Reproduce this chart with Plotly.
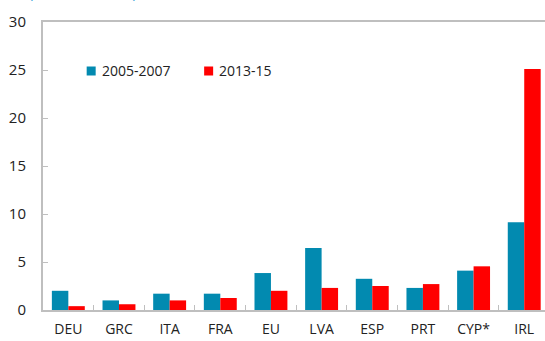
import plotly.graph_objects as go

# Categories and series values (percent of GDP)
countries = ["DEU", "GRC", "ITA", "FRA", "EU", "LVA", "ESP", "PRT", "CYP*", "IRL"]
series_names = ["2005-2007", "2013-15"]
values_2005_2007 = [2.0, 1.0, 1.7, 1.7, 3.85, 6.45, 3.25, 2.3, 4.1, 9.15]
values_2013_15 = [0.4, 0.6, 1.0, 1.25, 2.0, 2.3, 2.5, 2.7, 4.55, 25.1]
y_ticks = [0, 5, 10, 15, 20, 25, 30]
subtitle = "(Percent of GDP)"

teal = "#028AB0"
red = "#FF0000"
axis_grey = "#BFBFBF"
font_family = "Open Sans, Noto Sans, sans-serif"

fig = go.Figure()
fig.add_trace(go.Bar(x=countries, y=values_2005_2007, name=series_names[0],
                     marker=dict(color=teal, line=dict(width=0))))
fig.add_trace(go.Bar(x=countries, y=values_2013_15, name=series_names[1],
                     marker=dict(color=red, line=dict(width=0))))

fig.update_layout(
    width=545, height=341,
    margin=dict(l=43, r=0, t=22, b=31),
    paper_bgcolor="white", plot_bgcolor="white",
    barmode="group", bargap=0.35, bargroupgap=0,
    showlegend=False,
    font=dict(family=font_family, size=14, color="#222222"),
)

fig.update_xaxes(
    range=[-0.5, 9.41],
    showline=True, linecolor=axis_grey, linewidth=2, mirror=True,
    ticks="inside", tickson="boundaries", ticklen=5, tickcolor=axis_grey,
    ticklabelstandoff=5,
    showgrid=False, tickfont=dict(size=14),
)
fig.update_yaxes(
    range=[0, 30], tickvals=y_ticks,
    showline=True, linecolor=axis_grey, linewidth=2,
    ticks="inside", ticklen=5, tickcolor=axis_grey,
    ticklabelstandoff=12,
    showgrid=False, zeroline=False, tickfont=dict(size=15),
)

# Subtitle, partly above the top of the canvas
fig.add_annotation(text=subtitle, xref="paper", yref="paper",
                   x=-0.032, y=1.0, yshift=18, xanchor="left", yanchor="bottom",
                   showarrow=False, font=dict(size=14, color="#2E9BD6"))

# Legend keys: coloured squares followed by the series names
legend_items = [(series_names[0], teal, 0.087), (series_names[1], red, 0.321)]
for name, color, xpos in legend_items:
    fig.add_shape(type="rect", xref="paper", yref="paper",
                  x0=xpos, x1=xpos + 9 / 502, y0=(341 - 31 - 75.5) / 288,
                  y1=(341 - 31 - 66.5) / 288, fillcolor=color, line=dict(width=0))
    fig.add_annotation(text=name, xref="paper", yref="paper",
                       x=xpos + 13 / 502, y=(341 - 31 - 71) / 288,
                       xanchor="left", yanchor="middle", showarrow=False,
                       font=dict(size=14, color="#222222"))

fig.write_html("out.html")
